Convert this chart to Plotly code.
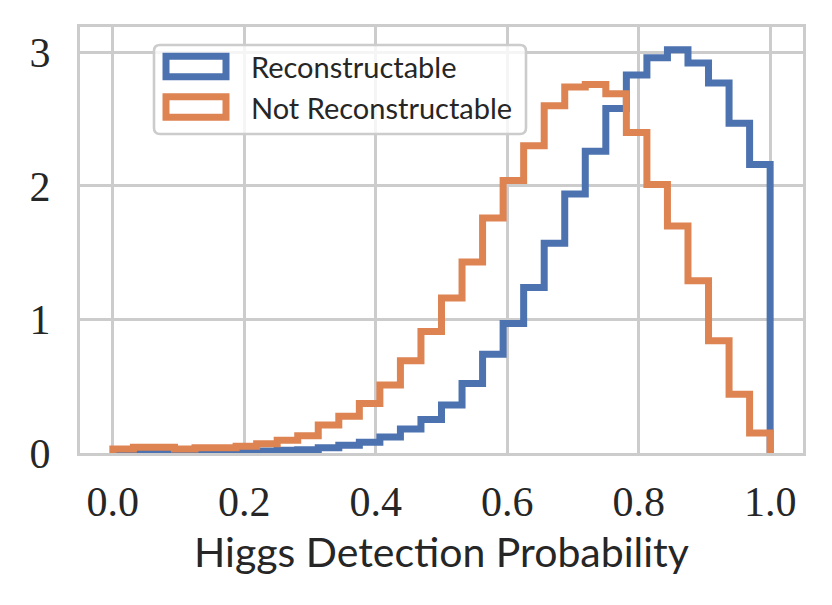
import numpy as np
import plotly.graph_objects as go

# 32 density-normalised bins on [0, 1]
n_bins = 32
bin_lo, bin_hi = 0.0, 1.0

reco = [0.0, 0.0, 0.0, 0.006, 0.008, 0.01, 0.01, 0.015,
        0.02, 0.025, 0.04, 0.058, 0.08, 0.12, 0.18, 0.25,
        0.36, 0.52, 0.74, 0.97, 1.24, 1.57, 1.94, 2.26,
        2.58, 2.83, 2.96, 3.02, 2.92, 2.77, 2.47, 2.16]
not_reco = [0.03, 0.043, 0.043, 0.03, 0.04, 0.04, 0.05, 0.07,
            0.095, 0.13, 0.21, 0.275, 0.37, 0.51, 0.69, 0.91,
            1.16, 1.43, 1.76, 2.04, 2.30, 2.60, 2.74, 2.76,
            2.69, 2.40, 2.01, 1.70, 1.29, 0.84, 0.44, 0.15]

names = ["Reconstructable", "Not Reconstructable"]
colors = ["#4C72B0", "#DD8452"]

x_ticks = [0.0, 0.2, 0.4, 0.6, 0.8, 1.0]
y_ticks = [0, 1, 2, 3]

W, H = 832, 605
# page body adds ~8px offset, margins compensate for it
m_l, m_r, m_t, m_b = 72, 37, 19, 160
grey = "#cccccc"
text_col = "#262626"


def step_xy(h):
    # matplotlib histtype='step' outline: up from 0, steps, down to 0
    edges = np.linspace(bin_lo, bin_hi, n_bins + 1)
    h = np.asarray(h, dtype=float)
    xs = np.concatenate([[edges[0]], edges[:-1], [edges[-1], edges[-1]]])
    ys = np.concatenate([[0.0], h, [h[-1], 0.0]])
    return xs, ys


fig = go.Figure()
for vals, name, col in zip([reco, not_reco], names, colors):
    xs, ys = step_xy(vals)
    fig.add_trace(go.Scatter(x=xs, y=ys, mode="lines", name=name,
                             line=dict(color=col, width=7, shape="hv"),
                             showlegend=False, hoverinfo="skip"))

fig.update_layout(
    width=W, height=H,
    margin=dict(l=m_l, r=m_r, t=m_t, b=m_b),
    paper_bgcolor="white", plot_bgcolor="white",
    showlegend=False,
)
fig.update_xaxes(range=[-0.05, 1.05], tickvals=x_ticks,
                 ticktext=[f"{v:.1f}" for v in x_ticks],
                 showgrid=True, gridcolor=grey, gridwidth=2.6,
                 showline=True, linecolor=grey, linewidth=3, mirror=True,
                 zeroline=False, ticks="", ticklabelstandoff=10,
                 tickfont=dict(family="Liberation Serif", size=42, color=text_col),
                 title=dict(text="Higgs Detection Probability", standoff=14,
                            font=dict(family="Lato", size=41, color=text_col)))
fig.update_yaxes(range=[0, 3.19], tickvals=y_ticks,
                 showgrid=True, gridcolor=grey, gridwidth=2.6,
                 showline=True, linecolor=grey, linewidth=3, mirror=True,
                 zeroline=False, ticks="", ticklabelstandoff=18,
                 tickfont=dict(family="Liberation Serif", size=42, color=text_col))

# legend drawn by hand (matplotlib-style patch handles)
# positions below are in screen pixels of the final page
off = 8
pw, ph = W - m_l - m_r, H - m_t - m_b


def px(x):
    return (x - off - m_l) / pw


def py(y):
    return (H - m_b - (y - off)) / ph


def rounded_box(x0, y0, x1, y1, r):
    pts = (f"M{px(x0 + r)},{py(y0)} L{px(x1 - r)},{py(y0)} "
           f"Q{px(x1)},{py(y0)} {px(x1)},{py(y0 + r)} "
           f"L{px(x1)},{py(y1 - r)} Q{px(x1)},{py(y1)} {px(x1 - r)},{py(y1)} "
           f"L{px(x0 + r)},{py(y1)} Q{px(x0)},{py(y1)} {px(x0)},{py(y1 - r)} "
           f"L{px(x0)},{py(y0 + r)} Q{px(x0)},{py(y0)} {px(x0 + r)},{py(y0)} Z")
    return pts


fig.add_shape(type="path", xref="paper", yref="paper",
              path=rounded_box(154, 45, 526, 134, 6),
              fillcolor="rgba(255,255,255,0.8)", line=dict(color=grey, width=2.6))

leg_rows = [66.5, 107]
for row_y, name, col in zip(leg_rows, names, colors):
    fig.add_shape(type="rect", xref="paper", yref="paper",
                  x0=px(166), x1=px(226), y0=py(row_y - 10.3), y1=py(row_y + 10.3),
                  fillcolor="white", line=dict(color=col, width=7))
    fig.add_annotation(xref="paper", yref="paper", x=px(249), y=py(row_y),
                       xanchor="left", yanchor="middle", showarrow=False,
                       text=name, font=dict(family="Lato", size=29, color=text_col))

fig.write_html("out.html")
